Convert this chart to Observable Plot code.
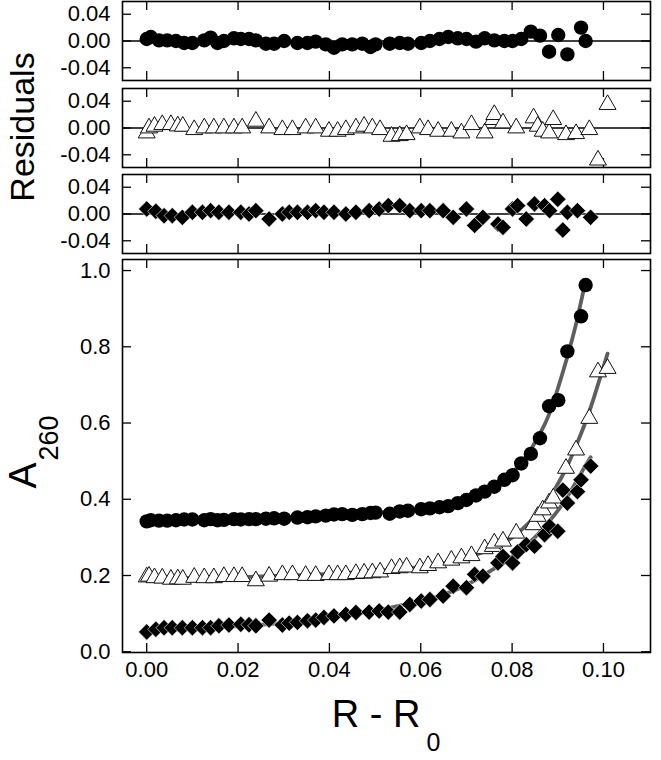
<!DOCTYPE html>
<html><head><meta charset="utf-8">
<script src="https://cdn.jsdelivr.net/npm/d3@7"></script>
<script src="https://cdn.jsdelivr.net/npm/@observablehq/plot@0.6"></script>
<style>
body{margin:0;background:#fff;}
#chart{position:relative;width:661px;height:760px;overflow:hidden;font-family:"Liberation Sans",Arial,sans-serif;color:#000;}
.panel{position:absolute;left:0;}
.lbl{position:absolute;white-space:nowrap;line-height:1;}
</style></head><body><div id="chart"></div><script>
// ---- data ----
const xTicks = [0, 0.02, 0.04, 0.06, 0.08, 0.10];
const resTicks = [-0.04, 0, 0.04];
const mainTicks = [0, 0.2, 0.4, 0.6, 0.8, 1.0];

const circX = [0.0000,0.0009,0.0027,0.0045,0.0064,0.0082,0.0100,0.0126,0.0140,0.0155,0.0169,0.0191,0.0206,0.0224,0.0239,0.0261,0.0279,0.0301,0.0330,0.0352,0.0370,0.0392,0.0410,0.0428,0.0450,0.0472,0.0490,0.0501,0.0532,0.0554,0.0572,0.0601,0.0620,0.0641,0.0660,0.0681,0.0700,0.0721,0.0740,0.0761,0.0783,0.0801,0.0820,0.0841,0.0861,0.0881,0.0901,0.0921,0.0951,0.0961];
const circY = [0.342,0.345,0.344,0.344,0.345,0.347,0.347,0.345,0.348,0.345,0.346,0.348,0.347,0.348,0.348,0.349,0.350,0.349,0.352,0.353,0.355,0.357,0.360,0.361,0.359,0.361,0.364,0.365,0.362,0.368,0.370,0.374,0.376,0.379,0.382,0.390,0.398,0.410,0.420,0.433,0.451,0.463,0.494,0.519,0.560,0.644,0.660,0.788,0.880,0.962];
const circRes = [0.003,0.006,0.001,0.001,0,-0.003,-0.003,0.001,0.005,-0.003,0,0.004,0.003,0.003,0.001,-0.004,-0.004,0,-0.003,-0.003,-0.001,-0.005,-0.010,-0.005,-0.005,-0.004,-0.009,-0.005,-0.004,-0.003,-0.004,-0.003,0,0.003,0.006,0.004,0.003,-0.001,0.004,0.001,0,0,0.003,0.014,0.008,-0.016,0.009,-0.020,0.020,0];

const triX = [0.0000,0.0005,0.0017,0.0034,0.0053,0.0068,0.0079,0.0104,0.0126,0.0147,0.0169,0.0191,0.0209,0.0239,0.0268,0.0297,0.0319,0.0348,0.0370,0.0399,0.0418,0.0436,0.0458,0.0476,0.0494,0.0511,0.0536,0.0554,0.0569,0.0598,0.0616,0.0638,0.0667,0.0689,0.0711,0.0740,0.0758,0.0761,0.0780,0.0809,0.0847,0.0856,0.0867,0.0881,0.0890,0.0918,0.0940,0.0969,0.0988,0.1009];
const triY = [0.196,0.198,0.194,0.193,0.190,0.191,0.190,0.195,0.194,0.194,0.197,0.197,0.197,0.186,0.198,0.202,0.202,0.200,0.200,0.202,0.202,0.202,0.205,0.206,0.207,0.209,0.218,0.220,0.222,0.220,0.226,0.233,0.240,0.246,0.252,0.270,0.276,0.285,0.290,0.311,0.333,0.355,0.372,0.390,0.403,0.481,0.529,0.612,0.734,0.743];
const triRes = [-0.0075,0,0.0025,0.005,0.005,0.003,0.0025,-0.0025,0,0,0,0,0,0.010,0,-0.0025,-0.0025,0,0,-0.005,-0.005,-0.0025,0,0.0025,0,-0.0025,-0.0125,-0.0115,-0.010,0,-0.0025,-0.005,-0.005,-0.0075,0.005,-0.0075,0.0125,0.020,0.0075,0,0.015,0.0025,-0.005,-0.0075,0.0125,-0.010,-0.0085,-0.0025,-0.048,0.035];

const diaX = [0.0000,0.0020,0.0038,0.0056,0.0078,0.0100,0.0122,0.0140,0.0158,0.0180,0.0206,0.0224,0.0239,0.0268,0.0297,0.0312,0.0330,0.0352,0.0370,0.0388,0.0410,0.0436,0.0458,0.0487,0.0509,0.0529,0.0554,0.0576,0.0601,0.0620,0.0649,0.0671,0.0700,0.0718,0.0736,0.0769,0.0780,0.0801,0.0812,0.0831,0.0849,0.0871,0.0882,0.0900,0.0911,0.0921,0.0943,0.0951,0.0972];
const diaY = [0.052,0.059,0.063,0.063,0.063,0.063,0.063,0.063,0.068,0.070,0.072,0.071,0.068,0.083,0.070,0.075,0.077,0.081,0.083,0.090,0.094,0.098,0.103,0.104,0.107,0.104,0.104,0.124,0.133,0.137,0.146,0.172,0.168,0.203,0.198,0.233,0.250,0.233,0.262,0.281,0.277,0.307,0.329,0.316,0.424,0.390,0.420,0.451,0.487];
const diaRes = [0.0075,0.004,-0.0025,-0.0025,-0.005,0.0025,0.0025,0.005,0.0025,0.0025,0.0025,0,0.005,-0.0075,0,0.0025,0.0025,0.0025,0.005,0.0025,0.0025,0,0.0025,0.005,0.0075,0.0125,0.0125,0.005,0.005,0.005,0.005,-0.005,0.0075,-0.017,-0.005,-0.015,-0.020,0.0075,0.0125,-0.0075,0.015,0.0125,0.005,0.022,-0.024,0.0025,0.005,null,-0.005];

// fitted curves
const fitCircX = [0,0.02,0.04,0.05,0.06,0.065,0.07,0.075,0.08,0.083,0.086,0.088,0.090,0.092,0.094,0.0961];
const fitCircY = [0.342,0.346,0.356,0.364,0.375,0.384,0.398,0.425,0.470,0.510,0.570,0.620,0.690,0.770,0.860,0.974];
const fitTriX = [0,0.02,0.04,0.05,0.06,0.065,0.07,0.075,0.08,0.085,0.088,0.090,0.092,0.094,0.096,0.098,0.1009];
const fitTriY = [0.192,0.196,0.204,0.212,0.222,0.232,0.246,0.268,0.300,0.355,0.400,0.440,0.485,0.540,0.600,0.670,0.782];
const fitDiaX = [0,0.01,0.02,0.03,0.04,0.05,0.055,0.06,0.065,0.07,0.075,0.08,0.085,0.088,0.090,0.092,0.094,0.096,0.0972];
const fitDiaY = [0.055,0.060,0.067,0.076,0.090,0.108,0.120,0.133,0.150,0.175,0.210,0.250,0.300,0.340,0.370,0.405,0.445,0.487,0.510];

// ---- build ----
const zip2 = (xs, ys) => xs.map((x, i) => ({x, y: ys[i]})).filter(d => d.y != null);
const W = 661, ML = 122, MR = 11, IW = W - ML - MR;
const xDomain = [-0.0053, 0.1103];
const font = "Liberation Sans, Arial, Helvetica, sans-serif";
const circStyle = {symbol: "circle", r: 7.2, fill: "black", stroke: "none"};
const triStyle = {symbol: "triangle", r: 6.3, fill: "white", stroke: "#111", strokeWidth: 1};
const diaStyle = {symbol: "diamond2", r: 7.4, fill: "black", stroke: "white", strokeWidth: 0.6};
const f2 = d => d.toFixed(2), f1 = d => d.toFixed(1);

function frameMarks(IH, yTicks) {
  return [
    Plot.tickX(xTicks, {insetBottom: IH - 9, stroke: "black", strokeWidth: 1.3}),
    Plot.tickX(xTicks, {insetTop: IH - 9, stroke: "black", strokeWidth: 1.3}),
    Plot.tickY(yTicks, {insetRight: IW - 9, stroke: "black", strokeWidth: 1.3}),
    Plot.tickY(yTicks, {insetLeft: IW - 9, stroke: "black", strokeWidth: 1.3}),
    Plot.frame({stroke: "black", strokeWidth: 1.6})
  ];
}

function resPanel(xs, rs, style, top) {
  const IH = 79, mt = 1, mb = 2;
  const p = Plot.plot({
    width: W, height: IH + mt + mb,
    marginLeft: ML, marginRight: MR, marginTop: mt, marginBottom: mb,
    style: {fontFamily: font, fontSize: "22px", background: "transparent", overflow: "visible"},
    x: {domain: xDomain, axis: null},
    y: {domain: [-0.059, 0.059], label: null},
    marks: [
      Plot.ruleY([0], {stroke: "black", strokeWidth: 1.3}),
      Plot.axisY({ticks: resTicks, tickSize: 0, tickPadding: 12, tickFormat: f2, label: null, fontSize: 22}),
      ...frameMarks(IH, resTicks),
      Plot.dot(zip2(xs, rs), {x: "x", y: "y", ...style})
    ]
  });
  p.classList.add("panel");
  p.style.top = top + "px";
  return p;
}

const chart = document.getElementById("chart");
chart.append(resPanel(circX, circRes, circStyle, 0));
chart.append(resPanel(triX, triRes, triStyle, 87));
chart.append(resPanel(diaX, diaRes, diaStyle, 173));

{
  const IH = 393, mt = 1, mb = 108;
  const p = Plot.plot({
    width: W, height: IH + mt + mb,
    marginLeft: ML, marginRight: MR, marginTop: mt, marginBottom: mb,
    style: {fontFamily: font, fontSize: "22px", background: "transparent", overflow: "visible"},
    x: {domain: xDomain, label: null},
    y: {domain: [-0.002, 1.029], label: null},
    marks: [
      Plot.axisY({ticks: mainTicks, tickSize: 0, tickPadding: 12, tickFormat: f1, label: null, fontSize: 22}),
      Plot.axisX({ticks: xTicks, tickSize: 0, tickPadding: 9, tickFormat: f2, label: null, fontSize: 22}),
      ...frameMarks(IH, mainTicks),
      Plot.line(zip2(fitCircX, fitCircY), {x: "x", y: "y", curve: "natural", stroke: "#5e5e5e", strokeWidth: 3.8}),
      Plot.line(zip2(fitTriX, fitTriY), {x: "x", y: "y", curve: "natural", stroke: "#5e5e5e", strokeWidth: 3.8}),
      Plot.line(zip2(fitDiaX, fitDiaY), {x: "x", y: "y", curve: "natural", stroke: "#5e5e5e", strokeWidth: 3.8}),
      Plot.dot(zip2(circX, circY), {x: "x", y: "y", ...circStyle}),
      Plot.dot(zip2(triX, triY), {x: "x", y: "y", ...triStyle}),
      Plot.dot(zip2(diaX, diaY), {x: "x", y: "y", ...diaStyle})
    ]
  });
  p.classList.add("panel");
  p.style.top = "258px";
  chart.append(p);
}

// axis titles as real text
function label(html, css) {
  const d = document.createElement("div");
  d.className = "lbl";
  d.innerHTML = html;
  Object.assign(d.style, css);
  chart.append(d);
}
label("Residuals", {left: "22px", top: "127px", fontSize: "34px", transform: "translate(-50%,-50%) rotate(-90deg)"});
label('A<span style="font-size:27px;position:relative;top:22px;margin-left:2px">260</span>',
  {left: "22px", top: "452px", fontSize: "39px", transform: "translate(-50%,-50%) rotate(-90deg)"});
label('R - R<span style="font-size:25px;position:relative;top:24px;margin-left:6px">0</span>',
  {left: "386px", top: "695px", fontSize: "38px", transform: "translateX(-50%)"});
</script></body></html>
